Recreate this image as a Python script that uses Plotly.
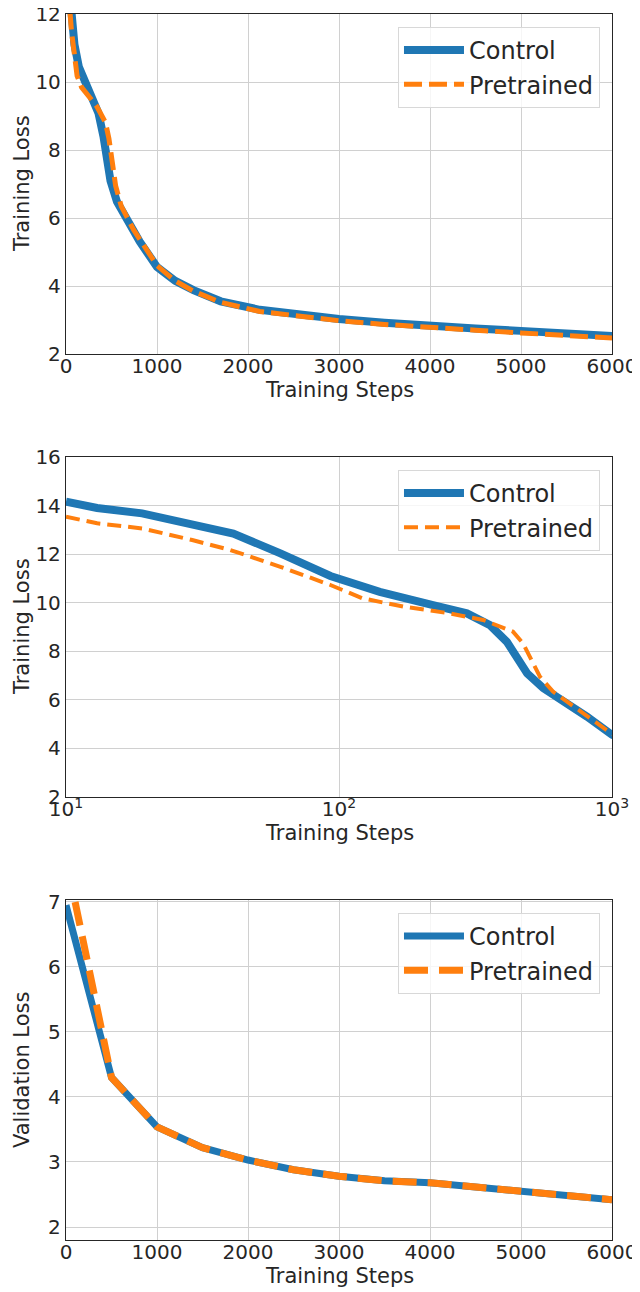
import plotly.graph_objects as go

# ---------------- data ----------------
train_steps_control = [10, 13, 19, 26, 34, 41, 61, 93, 141, 182, 221, 294, 357, 412, 449, 489,
                       560, 684, 809, 1000, 1200, 1400, 1700, 2130, 2500, 3000, 3500, 4000,
                       4500, 5000, 5500, 6000]
train_loss_control = [14.16, 13.9, 13.68, 13.36, 13.1, 12.85, 12.03, 11.1, 10.45, 10.18, 9.9,
                      9.56, 9.08, 8.39, 7.78, 7.09, 6.48, 5.86, 5.31, 4.56, 4.15, 3.88, 3.55,
                      3.3, 3.17, 3.03, 2.92, 2.82, 2.75, 2.68, 2.6, 2.53]

train_steps_pre = [10, 13, 19, 29, 40, 61, 93, 122, 172, 255, 337, 434, 472, 509, 545, 608,
                   744, 1000, 1200, 1400, 1700, 2130, 2500, 3000, 3500, 4000, 4500, 5000,
                   5500, 6000]
train_loss_pre = [13.54, 13.27, 13.06, 12.58, 12.17, 11.48, 10.73, 10.18, 9.84, 9.56, 9.29,
                  8.81, 8.33, 7.64, 6.95, 6.34, 5.65, 4.6, 4.15, 3.85, 3.52, 3.25, 3.12,
                  2.98, 2.87, 2.77, 2.7, 2.62, 2.55, 2.47]

val_steps_control = [0, 500, 1000, 1500, 2000, 2500, 3000, 3500, 4000, 4500, 5000, 5500, 6000]
val_loss_control = [6.95, 4.3, 3.54, 3.22, 3.03, 2.88, 2.78, 2.71, 2.68, 2.61, 2.55, 2.48, 2.42]

val_steps_pre = [100, 500, 1000, 1500, 2000, 2500, 3000, 3500, 4000, 4500, 5000, 5500, 6000]
val_loss_pre = [7.0, 4.3, 3.54, 3.22, 3.03, 2.88, 2.78, 2.71, 2.68, 2.61, 2.55, 2.48, 2.42]

linear_ticks = [0, 1000, 2000, 3000, 4000, 5000, 6000]
log_ticks = [10, 100, 1000]
log_tick_text = ["10<sup>1</sup>", "10<sup>2</sup>", "10<sup>3</sup>"]

# ---------------- style ----------------
BLUE = "#1f77b4"
ORANGE = "#ff7f0e"
TXT = "#262626"
GRID = "#d0d0d0"
FONT = "DejaVu Sans"

fig = go.Figure()

# plot 1
fig.add_trace(go.Scatter(x=train_steps_control, y=train_loss_control, mode="lines", name="Control",
                         line=dict(color=BLUE, width=8), xaxis="x", yaxis="y", legend="legend"))
fig.add_trace(go.Scatter(x=train_steps_pre, y=train_loss_pre, mode="lines", name="Pretrained",
                         line=dict(color=ORANGE, width=5, dash="18px,7px"), xaxis="x", yaxis="y",
                         legend="legend"))
# plot 2
fig.add_trace(go.Scatter(x=train_steps_control, y=train_loss_control, mode="lines", name="Control",
                         line=dict(color=BLUE, width=8), xaxis="x2", yaxis="y2", legend="legend2"))
fig.add_trace(go.Scatter(x=train_steps_pre, y=train_loss_pre, mode="lines", name="Pretrained",
                         line=dict(color=ORANGE, width=4, dash="14px,7px"), xaxis="x2", yaxis="y2",
                         legend="legend2"))
# plot 3
fig.add_trace(go.Scatter(x=val_steps_control, y=val_loss_control, mode="lines", name="Control",
                         line=dict(color=BLUE, width=7), xaxis="x3", yaxis="y3", legend="legend3"))
fig.add_trace(go.Scatter(x=val_steps_pre, y=val_loss_pre, mode="lines", name="Pretrained",
                         line=dict(color=ORANGE, width=7, dash="24px,11px"), xaxis="x3", yaxis="y3",
                         legend="legend3"))

# the page body adds an 8px margin, so the figure is 8px smaller and shifted
H_PLOT = 1226.0
W_PLOT = 546.0
def py(px):
    return (1240 - px) / H_PLOT
def dom(top_px, bot_px):
    return [py(bot_px), py(top_px)]

axis_common = dict(showgrid=True, gridcolor=GRID, gridwidth=1, showline=True, linecolor=TXT,
                   linewidth=1.3, mirror=True, ticks="", zeroline=False, automargin=False,
                   ticklabeloverflow="allow",
                   tickfont=dict(size=20, color=TXT, family=FONT))

legend_common = dict(xref="paper", yref="paper", x=0.978, xanchor="right", yanchor="top",
                     bgcolor="rgba(255,255,255,0.8)", bordercolor="#d8d8d8", borderwidth=1,
                     font=dict(size=24, color=TXT, family=FONT), itemwidth=60,
                     tracegroupgap=2)

title_font = dict(size=21, color=TXT, family=FONT)
annotations = []
for yc in (390, 833, 1276):
    annotations.append(dict(text="Training Steps", xref="paper", yref="paper", x=0.5, y=py(yc),
                            xanchor="center", yanchor="middle", showarrow=False, font=title_font))
for label, yc in (("Training Loss", 184), ("Training Loss", 627), ("Validation Loss", 1070)):
    annotations.append(dict(text=label, xref="paper", yref="paper", x=(22 - 66) / W_PLOT, y=py(yc),
                            xanchor="center", yanchor="middle", textangle=-90, showarrow=False,
                            font=title_font))

xstand = dict(ticklabelstandoff=-6)

fig.update_layout(
    width=632, height=1284,
    margin=dict(l=58, r=28, t=6, b=52, autoexpand=False),
    paper_bgcolor="white", plot_bgcolor="white",
    font=dict(family=FONT, color=TXT),
    xaxis=dict(domain=[0, 1], range=[0, 6000], tickvals=linear_ticks, anchor="y",
               **xstand, **axis_common),
    yaxis=dict(domain=dom(14, 354), range=[2, 12], tickvals=[2, 4, 6, 8, 10, 12], anchor="x",
               **axis_common),
    xaxis2=dict(domain=[0, 1], type="log", range=[1, 3], tickvals=log_ticks, ticktext=log_tick_text,
                anchor="y2", **xstand, **axis_common),
    yaxis2=dict(domain=dom(457, 797), range=[2, 16], dtick=2, anchor="x2", **axis_common),
    xaxis3=dict(domain=[0, 1], range=[0, 6000], tickvals=linear_ticks, anchor="y3",
                **xstand, **axis_common),
    yaxis3=dict(domain=dom(900, 1240), range=[1.8, 7.03], dtick=1, anchor="x3", **axis_common),
    legend=dict(y=py(27), **legend_common),
    legend2=dict(y=py(470), **legend_common),
    legend3=dict(y=py(913), **legend_common),
    annotations=annotations,
)

fig.write_html("out.html")
